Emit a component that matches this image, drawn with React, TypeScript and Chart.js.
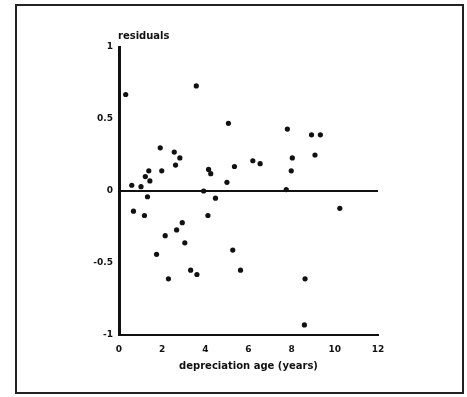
import React, { useEffect, useRef } from "react";
import { Chart, registerables } from "chart.js";

Chart.register(...registerables);

const ageYears: number[] = [
  0.31, 3.58, 5.07, 1.91, 2.56, 2.82, 2.62, 1.98, 1.38, 1.22, 1.43, 0.59, 1.02, 1.32,
  4.15, 4.25, 5.0, 5.35, 6.2, 6.54, 3.92, 4.47, 7.8, 8.92, 9.33, 8.03, 9.08, 7.98,
  7.75, 10.23, 0.67, 1.18, 2.14, 2.67, 2.93, 3.05, 1.74, 2.29, 3.32, 3.61, 4.12,
  5.27, 5.63, 8.62, 8.59,
];
const residuals: number[] = [
  0.67, 0.73, 0.47, 0.3, 0.27, 0.23, 0.18, 0.14, 0.14, 0.1, 0.07, 0.04, 0.03, -0.04,
  0.15, 0.12, 0.06, 0.17, 0.21, 0.19, 0.0, -0.05, 0.43, 0.39, 0.39, 0.23, 0.25, 0.14,
  0.01, -0.12, -0.14, -0.17, -0.31, -0.27, -0.22, -0.36, -0.44, -0.61, -0.55, -0.58,
  -0.17, -0.41, -0.55, -0.61, -0.93,
];
const xTickValues: number[] = [0, 2, 4, 6, 8, 10, 12];
const yTickLabels: Record<string, string> = { "1": "1", "0.5": "0.5", "0": "0", "-0.5": "-0.5", "-1": "-1" };
const xTitle = "depreciation age (years)";
const yTitle = "residuals";

const INK = "#111";
const FONT = "'DejaVu Sans', sans-serif";

export default function App() {
  const ref = useRef<HTMLCanvasElement>(null);

  useEffect(() => {
    if (!ref.current) return;
    const points = ageYears.map((x, i) => ({ x, y: residuals[i] }));
    const yTitlePlugin = {
      id: "yTitleTop",
      afterDraw(chart: any) {
        const c = chart.ctx;
        c.save();
        c.font = `bold 10px ${FONT}`;
        c.fillStyle = INK;
        c.textAlign = "left";
        c.textBaseline = "middle";
        c.fillText(yTitle, chart.chartArea.left - 1, chart.chartArea.top - 11);
        c.restore();
      },
    };
    const chart = new Chart(ref.current, {
      type: "scatter",
      data: {
        datasets: [
          {
            data: points,
            backgroundColor: INK,
            borderColor: INK,
            pointRadius: 2.6,
            pointBorderWidth: 0,
          },
        ],
      },
      options: {
        animation: false,
        responsive: false,
        layout: { padding: { top: 47, right: 89, left: 0, bottom: 25 } },
        plugins: { legend: { display: false }, tooltip: { enabled: false } },
        scales: {
          x: {
            type: "linear",
            min: 0,
            max: 12,
            afterBuildTicks: (scale: any) => {
              scale.ticks = xTickValues.map((v) => ({ value: v }));
            },
            afterFit: (scale: any) => {
              scale.height = 37;
            },
            grid: { display: true, color: "transparent", drawTicks: false },
            border: { display: true, color: INK, width: 2 },
            ticks: {
              padding: 9,
              color: INK,
              font: { family: FONT, size: 9, weight: "bold" },
              callback: (v: any) => String(v),
            },
            title: {
              display: true,
              text: xTitle,
              color: INK,
              font: { family: FONT, size: 10, weight: "bold" },
              padding: { top: 4, bottom: 0 },
            },
          },
          y: {
            type: "linear",
            min: -1,
            max: 1,
            ticks: {
              stepSize: 0.5,
              padding: 6,
              color: INK,
              font: { family: FONT, size: 9, weight: "bold" },
              callback: (v: any) => yTickLabels[String(v)] ?? "",
            },
            afterFit: (scale: any) => {
              scale.width = 119;
            },
            grid: {
              display: true,
              drawTicks: false,
              color: (ctx: any) => (ctx.tick && ctx.tick.value === 0 ? INK : "transparent"),
              lineWidth: 2,
            },
            border: { display: true, color: INK, width: 3 },
          },
        },
      },
      plugins: [yTitlePlugin],
    } as any);
    return () => chart.destroy();
  }, []);

  return (
    <div style={{ position: "fixed", left: 0, top: 0, width: 467, height: 397, background: "#fff" }}>
      <div
        style={{
          position: "absolute",
          left: 15,
          top: 4,
          width: 445,
          height: 386,
          border: "2px solid #222",
        }}
      />
      <canvas ref={ref} width={467} height={397} style={{ position: "absolute", left: 0, top: 0 }} />
    </div>
  );
}
